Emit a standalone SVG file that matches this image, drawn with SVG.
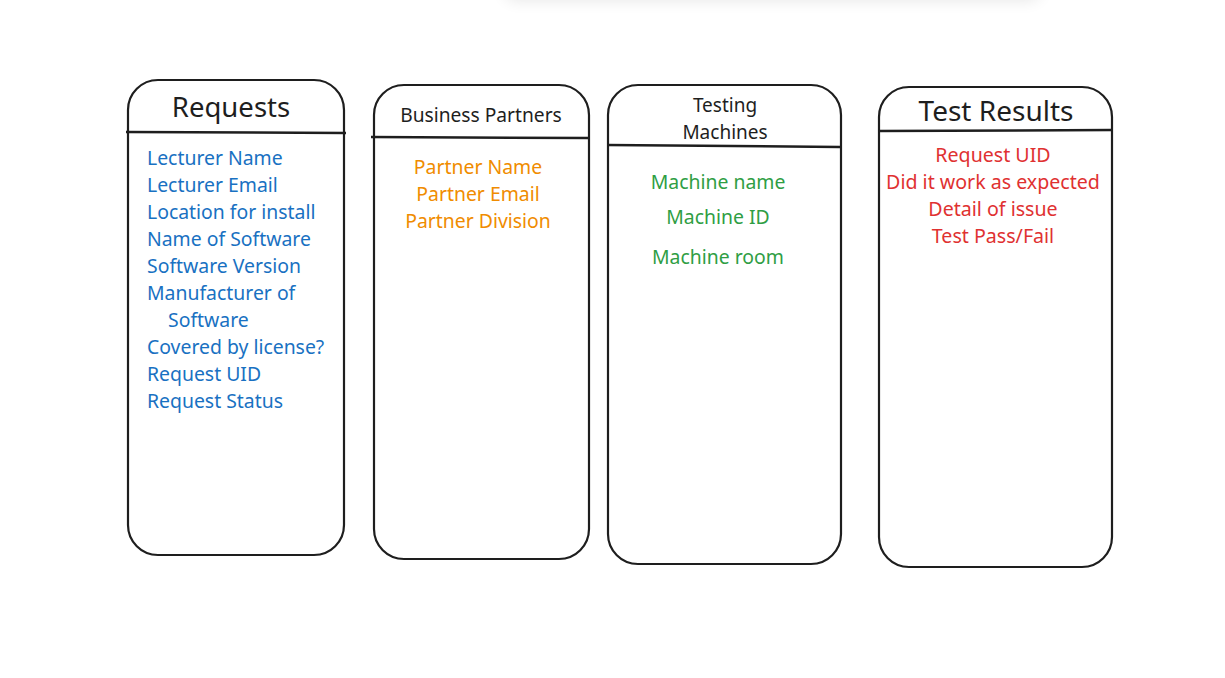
<svg xmlns="http://www.w3.org/2000/svg" width="1225" height="678" viewBox="0 0 1225 678">
<style>
.box{fill:#ffffff;stroke:#1e1e1e;stroke-width:2.2;stroke-linecap:round}
.div{stroke:#1e1e1e;stroke-width:2.5;fill:none}
text{font-family:"Noto Sans","Open Sans",sans-serif}
.t{fill:#1e1e1e}
.blue{fill:#1971c2;font-size:19.4px}
.orange{fill:#f08c00;font-size:19.4px;text-anchor:middle}
.green{fill:#2f9e44;font-size:19.4px;text-anchor:middle}
.red{fill:#e03131;font-size:19.6px;text-anchor:middle}
</style>
<defs>
<filter id="sh" x="-20%" y="-200%" width="140%" height="500%"><feGaussianBlur stdDeviation="8"/></filter>
</defs>
<rect x="0" y="0" width="1225" height="678" fill="#ffffff"/>
<rect x="505" y="-30" width="535" height="30" rx="10" fill="#000" opacity="0.10" filter="url(#sh)"/>
<rect x="495" y="-40" width="555" height="40" fill="#ffffff"/>
<g id="connectors"></g>
<g id="requests">
<rect class="box" x="128" y="80" width="216" height="475" rx="30"/>
<path class="div" d="M126 132 L346 133"/>
<text class="t" x="231" y="117" font-size="27.5" text-anchor="middle">Requests</text>
<text class="blue" x="147" y="165">Lecturer Name</text>
<text class="blue" x="147" y="192">Lecturer Email</text>
<text class="blue" x="147" y="219">Location for install</text>
<text class="blue" x="147" y="246">Name of Software</text>
<text class="blue" x="147" y="273">Software Version</text>
<text class="blue" x="147" y="300">Manufacturer of</text>
<text class="blue" x="168" y="327">Software</text>
<text class="blue" x="147" y="354">Covered by license?</text>
<text class="blue" x="147" y="381">Request UID</text>
<text class="blue" x="147" y="408">Request Status</text>
</g>
<g id="business-partners">
<rect class="box" x="374" y="85" width="215" height="474" rx="30"/>
<path class="div" d="M371 137 L589 138"/>
<text class="t" x="481" y="122" font-size="19.2" text-anchor="middle">Business Partners</text>
<text class="orange" x="478" y="174">Partner Name</text>
<text class="orange" x="478" y="201">Partner Email</text>
<text class="orange" x="478" y="228">Partner Division</text>
</g>
<g id="testing-machines">
<rect class="box" x="608" y="85" width="233" height="479" rx="30"/>
<path class="div" d="M607 145 L840 147"/>
<text class="t" x="725" y="112" font-size="19" text-anchor="middle">Testing</text>
<text class="t" x="725" y="139" font-size="19" text-anchor="middle">Machines</text>
<text class="green" x="718" y="189">Machine name</text>
<text class="green" x="718" y="224">Machine ID</text>
<text class="green" x="718" y="264">Machine room</text>
</g>
<g id="test-results">
<rect class="box" x="879" y="87" width="233" height="480" rx="30"/>
<path class="div" d="M878 131 L1112 130"/>
<text class="t" x="996" y="121" font-size="28" text-anchor="middle">Test Results</text>
<text class="red" x="993" y="162">Request UID</text>
<text class="red" x="993" y="189">Did it work as expected</text>
<text class="red" x="993" y="216">Detail of issue</text>
<text class="red" x="993" y="243">Test Pass/Fail</text>
</g>
</svg>
